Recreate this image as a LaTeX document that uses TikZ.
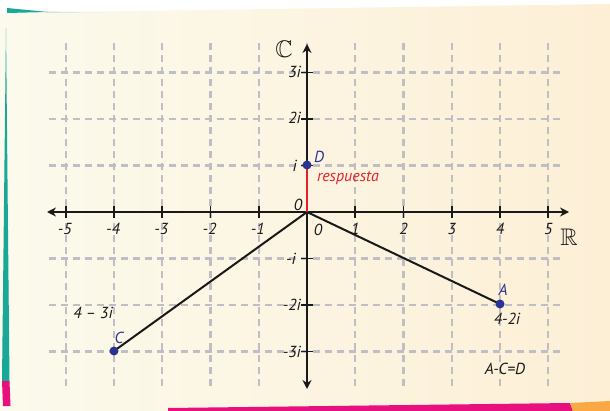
\documentclass[tikz,border=0pt]{standalone}
\usepackage{amssymb}
\usepackage{fontspec}
\setmainfont{PT Sans}
\usetikzlibrary{arrows.meta}
\definecolor{creamA}{HTML}{FBFAEC}
\definecolor{creamB}{HTML}{FDEFD6}
\definecolor{tealc}{HTML}{17A898}
\definecolor{magc}{HTML}{E8107F}
\definecolor{orc}{HTML}{F9A844}
\definecolor{gridc}{HTML}{BEBEC4}
\definecolor{bluec}{HTML}{2B3290}
\definecolor{redc}{HTML}{E4202B}
\tikzset{
  gridline/.style={gridc, line width=2.4pt, dash pattern=on 7pt off 5pt},
  axisline/.style={black!90, line width=2pt, {Stealth[length=9pt,width=9pt]}-{Stealth[length=9pt,width=9pt]}},
  tickline/.style={black!90, line width=1.8pt},
  segline/.style={black!90, line width=2pt},
  dot/.style={circle, fill=bluec, inner sep=0pt, minimum size=9pt},
  lbl/.style={inner sep=0pt, text=black!90},
  bluelbl/.style={inner sep=0pt, text=bluec},
}
\begin{document}
\begin{tikzpicture}[x=1pt,y=-1pt, font=\fontsize{16}{18}\selectfont\itshape]
\useasboundingbox (0,0) rectangle (610,411);
% background
\fill[white] (0,0) rectangle (610,411);
\shade[left color=creamA, right color=creamB] (0,13) -- (610,4) -- (610,411) -- (0,411) -- cycle;
\fill[tealc] (7,8) -- (48,12) -- (7,13) -- cycle;
\shade[left color=tealc!60!brown!40, right color=creamA] (46,11.6) -- (115,12.4) -- (46,12.6) -- cycle;
\fill[tealc] (6,28) -- (9.5,381) -- (2,381) -- cycle;
\fill[magc] (2,381) -- (9.5,381) -- (10.5,406) -- (3,406) -- cycle;
\fill[magc] (168,408) -- (570,403) -- (573,411) -- (168,411) -- cycle;
\fill[orc] (570,403) -- (610,401) -- (610,411) -- (573,411) -- cycle;
% grid
\foreach \k in {-5,...,5} \draw[gridline] ({307+48.25*\k},43) -- ({307+48.25*\k},386);
\foreach \k in {-3,...,3} \draw[gridline] (49,{212-46.5*\k}) -- (562,{212-46.5*\k});
% axes
\coordinate (xl) at (47,212);
\coordinate (xr) at (569,212);
\coordinate (yt) at (307,44);
\coordinate (yb) at (307,389);
\draw[axisline] (xl) -- (xr);
\draw[axisline] (yt) -- (yb);
\foreach \k in {-5,-4,-3,-2,-1,1,2,3,4,5} \draw[tickline] ({307+48.25*\k},206) -- ({307+48.25*\k},218);
\foreach \k in {-3,-2,-1,1,2,3} \draw[tickline] (301,{212-46.5*\k}) -- (313,{212-46.5*\k});
% x labels
\foreach \k in {-5,-4,-3,-2,-1} \node[lbl] at ({307+48.25*\k-1},229) {-\the\numexpr-\k\relax};
\foreach \k in {1,2,3,4,5} \node[lbl] at ({307+48.25*\k},229) {\k};
\node[lbl] (z1) at (318,230) {0};
\node[lbl] (z2) at (298,205) {0};
% y labels
\node[lbl, anchor=east] (l3) at (301,72) {3i};
\node[lbl, anchor=east] (l2) at (301,118) {2i};
\node[lbl, anchor=east] (l1) at (297,166) {i};
\node[lbl, anchor=east] (lm1) at (296,259) {-i};
\node[lbl, anchor=east] (lm2) at (301,305) {-2i};
\node[lbl, anchor=east] (lm3) at (301,352) {-3i};
\node[lbl, font=\fontsize{24}{26}\selectfont] (CC) at (284,49) {$\mathbb{C}$};
\node[lbl, font=\fontsize{24}{26}\selectfont] (RR) at (569,237) {$\mathbb{R}$};
% points
\coordinate (O) at (307,212);
\coordinate (A) at (500,304);
\coordinate (C) at (114,351);
\coordinate (D) at (307,165);
\draw[segline] (O) -- (A);
\draw[segline] (O) -- (C);
\draw[redc, line width=2.2pt] (O) -- (D);
\node[dot] (Ad) at (A) {};
\node[dot] (Cd) at (C) {};
\node[dot] (Dd) at (D) {};
\node[bluelbl] (Dl) at (319,157) {D};
\node[bluelbl] (Al) at (503,290) {A};
\node[bluelbl] (Cl) at (119,338) {C};
\node[lbl] (Av) at (507,319) {4-2i};
\node[lbl] (Cv) at (93,313) {4 – 3i};
\node[lbl] (eq) at (505,369) {A-C=D};
\node[inner sep=0pt, text=redc] (resp) at (348,178) {respuesta};
\end{tikzpicture}
\end{document}
